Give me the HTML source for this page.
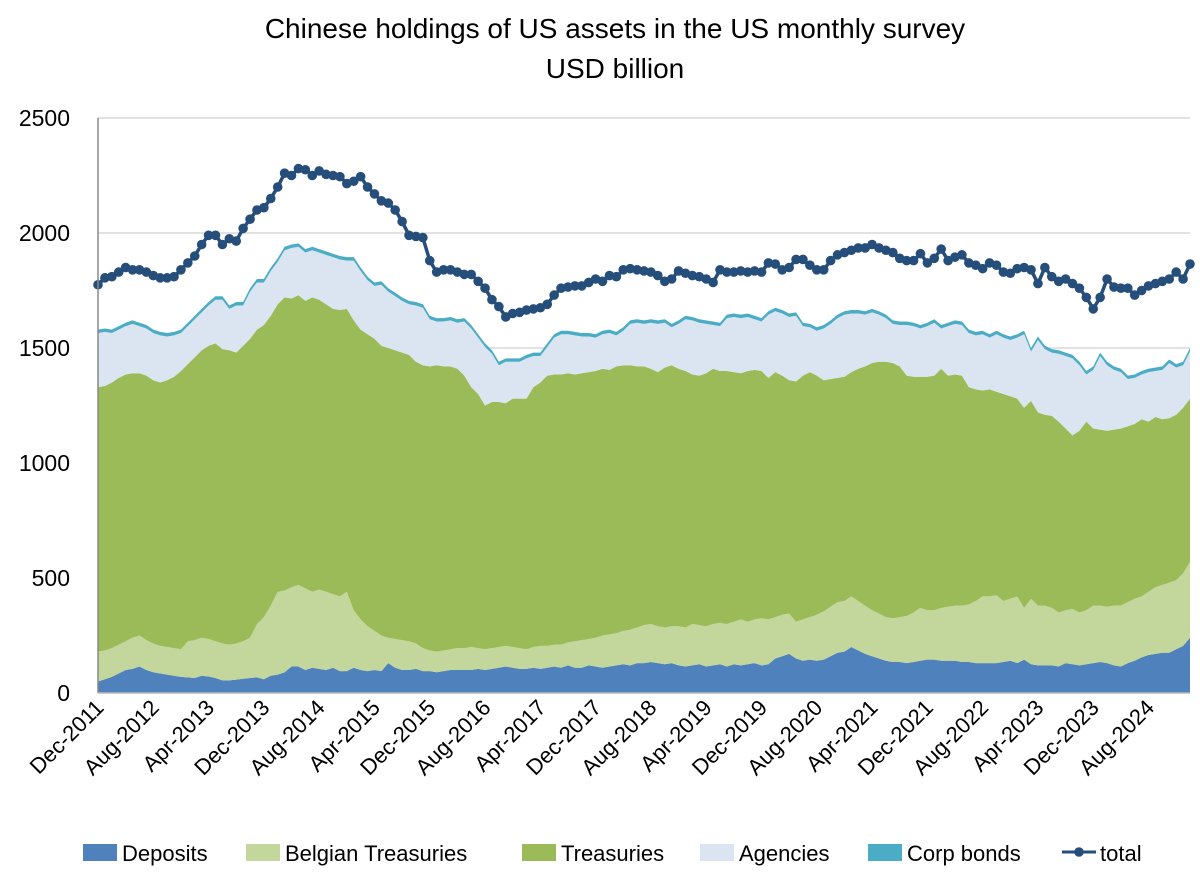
<!DOCTYPE html>
<html><head><meta charset="utf-8">
<style>
html,body{margin:0;padding:0;background:#fff;}
svg{display:block;font-family:"Liberation Sans",sans-serif;}
</style></head>
<body>
<svg id="chart" width="1200" height="874" viewBox="0 0 1200 874">
<text x="615" y="38" font-size="28" text-anchor="middle" fill="#000">Chinese holdings of US assets in the US monthly survey</text>
<text x="615" y="78" font-size="28" text-anchor="middle" fill="#000">USD billion</text>
<g id="grid"></g>
<g id="areas"></g>
<g id="totalg"></g>
<g id="axes"></g>
<g id="legend"></g>
</svg>
<script>
// Stacked levels (top of each band), monthly Dec-2011 .. Feb-2025
const depositsTop=[50,
60,70,85,100,105,115,100,90,85,80,75,70,
68,65,75,72,65,55,55,58,62,65,68,60,
75,80,90,115,115,100,110,105,100,110,95,95,
110,100,95,100,95,130,110,100,100,105,95,95,
90,95,100,100,100,100,105,100,105,110,115,110,
105,105,110,105,110,115,110,120,110,110,120,115,
110,115,120,125,120,130,130,135,130,125,130,120,
115,120,125,115,120,125,115,125,120,125,130,120,
125,150,160,170,150,140,145,140,145,160,175,180,
200,185,170,160,150,140,135,135,130,135,140,145,
145,140,140,140,135,135,130,130,130,130,135,140,
130,145,125,120,120,120,115,130,125,120,125,130,
135,130,120,115,130,140,155,165,170,175,175,190,
205,240];
const belgianTop=[180,
185,195,210,225,240,250,230,215,205,200,195,190,
225,230,240,235,225,215,210,215,225,240,300,330,
380,440,445,460,470,455,440,450,440,430,420,440,
360,320,290,270,250,240,235,230,225,215,195,185,
180,185,190,195,195,200,195,190,195,200,205,200,
195,190,200,205,205,210,210,220,225,230,235,240,
250,255,260,270,275,285,295,300,290,285,290,290,
285,300,295,290,300,305,300,310,320,310,320,325,
320,330,340,345,310,320,330,340,355,375,395,400,
420,400,380,360,345,330,325,330,335,350,370,360,
360,370,375,380,380,385,400,420,420,425,400,410,
420,370,410,380,380,370,350,360,365,350,360,380,
380,375,380,380,395,410,420,440,460,470,480,490,
520,570];
const treasuriesTop=[1330,
1335,1350,1370,1385,1390,1390,1380,1360,1350,1360,1375,1400,
1430,1460,1490,1510,1520,1495,1490,1480,1510,1540,1580,1600,
1640,1690,1720,1715,1730,1705,1720,1710,1690,1670,1665,1670,
1620,1580,1560,1540,1510,1500,1490,1480,1470,1440,1425,1420,
1425,1420,1420,1410,1380,1330,1300,1250,1265,1265,1260,1280,
1280,1280,1330,1350,1380,1385,1385,1390,1385,1390,1395,1400,
1410,1405,1420,1425,1425,1420,1420,1410,1395,1415,1425,1410,
1400,1385,1380,1390,1410,1400,1400,1395,1390,1400,1405,1400,
1370,1395,1380,1360,1355,1380,1395,1380,1360,1365,1370,1375,
1395,1410,1420,1435,1440,1440,1435,1420,1380,1375,1375,1375,
1380,1410,1380,1385,1380,1330,1320,1315,1320,1310,1300,1290,
1280,1240,1270,1220,1210,1205,1180,1150,1120,1140,1180,1150,
1145,1140,1145,1150,1160,1170,1190,1180,1200,1190,1195,1210,
1240,1280];
const corpBondsTop=[1580,
1585,1580,1595,1610,1620,1610,1600,1580,1570,1565,1570,1580,
1610,1640,1670,1700,1725,1725,1685,1700,1700,1760,1800,1800,
1850,1890,1940,1950,1955,1930,1940,1930,1920,1910,1900,1895,
1895,1850,1810,1785,1790,1760,1740,1720,1705,1700,1690,1640,
1630,1630,1635,1625,1630,1600,1560,1520,1490,1440,1455,1455,
1455,1470,1480,1480,1520,1560,1575,1575,1570,1565,1565,1560,
1575,1580,1570,1590,1620,1625,1620,1625,1620,1625,1605,1620,
1640,1635,1625,1620,1615,1610,1645,1650,1645,1650,1640,1630,
1660,1675,1665,1650,1655,1610,1605,1590,1600,1620,1645,1660,
1665,1665,1660,1670,1660,1645,1620,1615,1615,1610,1600,1610,
1625,1600,1610,1620,1615,1580,1570,1575,1560,1575,1560,1550,
1560,1575,1500,1550,1510,1495,1490,1480,1470,1440,1400,1420,
1480,1440,1420,1410,1380,1385,1400,1410,1415,1420,1450,1430,
1440,1500];
const corpBonds=15; // thickness of corp bond band (agencies top = corpBondsTop - corpBonds)
const total=[1775,
1805,1810,1830,1850,1840,1840,1830,1815,1805,1805,1810,1840,
1870,1900,1950,1990,1990,1950,1975,1965,2020,2060,2100,2110,
2150,2200,2260,2250,2280,2275,2250,2270,2255,2250,2245,2215,
2225,2245,2200,2170,2140,2130,2100,2050,1990,1985,1980,1880,
1830,1840,1840,1830,1820,1820,1790,1760,1710,1680,1635,1650,
1655,1665,1670,1675,1690,1730,1760,1765,1770,1770,1785,1800,
1790,1815,1810,1840,1845,1840,1835,1830,1815,1790,1800,1835,
1825,1815,1810,1800,1785,1840,1830,1830,1835,1830,1835,1830,
1870,1865,1840,1850,1885,1885,1860,1840,1840,1880,1905,1915,
1925,1935,1935,1950,1935,1925,1915,1890,1880,1880,1910,1870,
1890,1930,1880,1895,1905,1870,1860,1845,1870,1860,1830,1825,
1845,1850,1840,1780,1850,1810,1790,1800,1780,1760,1720,1670,
1720,1800,1765,1760,1760,1730,1750,1770,1780,1790,1800,1830,
1800,1865];
const yTicks=[0,500,1000,1500,2000,2500];
const xTickLabels=["Dec-2011","Aug-2012","Apr-2013","Dec-2013","Aug-2014","Apr-2015","Dec-2015","Aug-2016","Apr-2017","Dec-2017","Aug-2018","Apr-2019","Dec-2019","Aug-2020","Apr-2021","Dec-2021","Aug-2022","Apr-2023","Dec-2023","Aug-2024"];

const NS="http://www.w3.org/2000/svg";
const X0=98,X1=1190,Y0=693,Y1=118,N=total.length;
const xs=i=>X0+(X1-X0)*i/(N-1);
const ys=v=>Y0-(Y0-Y1)*v/2500;
function mk(tag,attrs,parent){const e=document.createElementNS(NS,tag);for(const k in attrs)e.setAttribute(k,attrs[k]);parent.appendChild(e);return e;}
const grid=document.getElementById('grid'),areas=document.getElementById('areas'),tg=document.getElementById('totalg'),axes=document.getElementById('axes'),leg=document.getElementById('legend');

yTicks.forEach(t=>{
  if(t>0){const l=mk('line',{x1:X0,x2:X1,y1:ys(t),y2:ys(t),stroke:'#d9d9d9','stroke-width':1.5},grid);
  
  }
  const tx=mk('text',{x:70,y:ys(t)+8,'font-size':23,'text-anchor':'end',fill:'#000'},axes);
  tx.textContent=t;
  
  
});

function band(lo,hi,fill,name){
  let d='M'+xs(0)+','+ys(hi(0));
  for(let i=1;i<N;i++)d+='L'+xs(i)+','+ys(hi(i));
  for(let i=N-1;i>=0;i--)d+='L'+xs(i)+','+ys(lo(i));
  const p=mk('path',{d:d+'Z',fill:fill},areas);
  
  
}
band(i=>0,i=>depositsTop[i],'#4f81bd','deposits-area');
band(i=>depositsTop[i],i=>belgianTop[i],'#c3d69b','belgian-treasuries-area');
band(i=>belgianTop[i],i=>treasuriesTop[i],'#9bbb59','treasuries-area');
band(i=>treasuriesTop[i],i=>corpBondsTop[i]-corpBonds,'#dbe5f1','agencies-area');
band(i=>corpBondsTop[i]-corpBonds,i=>corpBondsTop[i],'#4bacc6','corp-bonds-area');

let td='';
for(let i=0;i<N;i++)td+=(i?'L':'M')+xs(i)+','+ys(total[i]);
const tl=mk('path',{d:td,fill:'none',stroke:'#254e7b','stroke-width':3.5},tg);


for(let i=0;i<N;i++){
  const c=mk('circle',{cx:xs(i),cy:ys(total[i]),r:4.8,fill:'#254e7b'},tg);
  
  
}

const ax=mk('line',{x1:X0,x2:X0,y1:Y1,y2:Y0,stroke:'#888','stroke-width':1.5},axes);


const bx=mk('line',{x1:X0,x2:X1,y1:Y0,y2:Y0,stroke:'#bbb','stroke-width':1.5},axes);


xTickLabels.forEach((lab,k)=>{
  const x=xs(k*8)+7,y=709;
  const t=mk('text',{x:x,y:y,'font-size':22,'text-anchor':'end',fill:'#000',transform:'rotate(-45 '+x+' '+y+')'},axes);
  t.textContent=lab;
  
  
});

const legendItems=[["Deposits",83,'#4f81bd'],["Belgian Treasuries",246,'#c3d69b'],["Treasuries",522,'#9bbb59'],["Agencies",700,'#dbe5f1'],["Corp bonds",868,'#4bacc6']];
legendItems.forEach(it=>{
  const r=mk('rect',{x:it[1],y:844,width:34,height:17,fill:it[2]},leg);
  
  
  const t=mk('text',{x:it[1]+39,y:861,'font-size':22,fill:'#000'},leg);
  t.textContent=it[0];
  
  
});
const ll=mk('line',{x1:1062,x2:1096,y1:852,y2:852,stroke:'#254e7b','stroke-width':3},leg);


const lc=mk('circle',{cx:1079,cy:852,r:4.8,fill:'#254e7b'},leg);


const lt=mk('text',{x:1100,y:861,'font-size':22,fill:'#000'},leg);
lt.textContent='total';


</script>
</body></html>
